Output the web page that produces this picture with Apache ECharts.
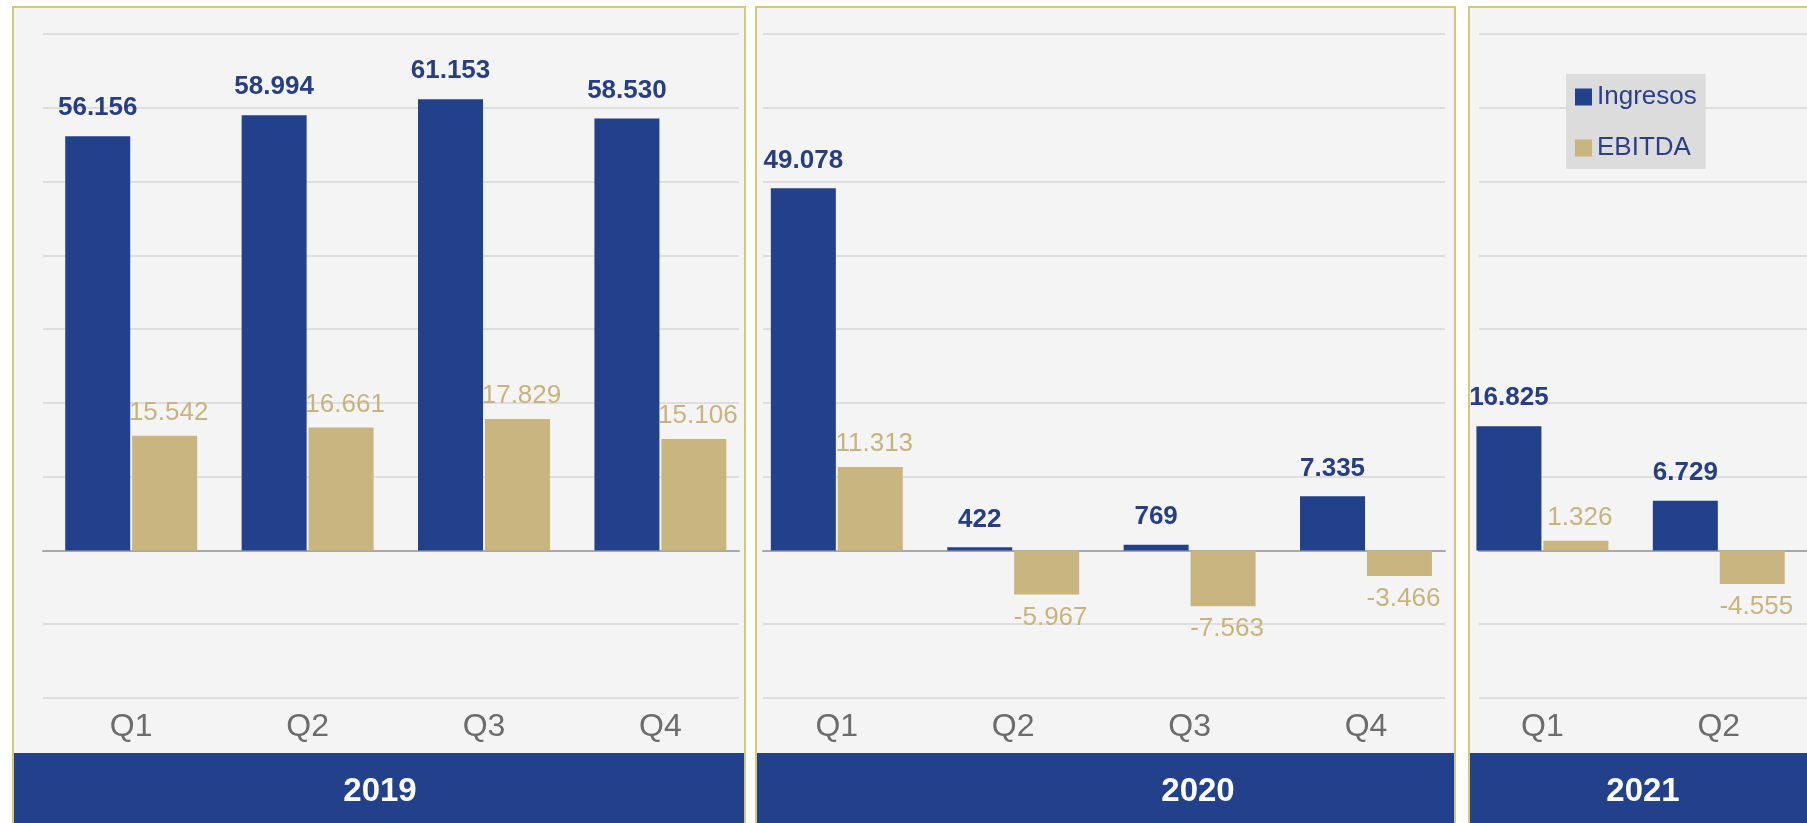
<!DOCTYPE html>
<html>
<head>
<meta charset="utf-8">
<script src="https://cdn.jsdelivr.net/npm/echarts@6/dist/echarts.min.js"></script>
<style>
html,body{margin:0;padding:0;background:#ffffff;}
#chart{width:1807px;height:823px;}
</style>
</head>
<body>
<div id="chart"></div>
<script>
// ---- data ----
const years = ['2019', '2020', '2021'];
const quarters2019 = ['Q1', 'Q2', 'Q3', 'Q4'];
const quarters2020 = ['Q1', 'Q2', 'Q3', 'Q4'];
const quarters2021 = ['Q1', 'Q2'];
const ingresos = [56156, 58994, 61153, 58530, 49078, 422, 769, 7335, 16825, 6729];
const ebitda = [15542, 16661, 17829, 15106, 11313, -5967, -7563, -3466, 1326, -4555];
const seriesNames = ['Ingresos', 'EBITDA'];
const yMin = -20000, yMax = 70000, yStep = 10000;

const categories = []
  .concat(quarters2019.map(q => years[0] + ' ' + q))
  .concat(quarters2020.map(q => years[1] + ' ' + q))
  .concat(quarters2021.map(q => years[2] + ' ' + q));

function fmt(v) {
  const s = v < 0 ? '-' : '';
  const a = String(Math.abs(v));
  return s + a.replace(/\B(?=(\d{3})+(?!\d))/g, '.');
}

const FONT = '"Liberation Sans", Arial, Helvetica, sans-serif';
const BLUE = '#22418a';
const GOLD = '#c9b57f';
const PANEL_BG = '#f4f4f5';
const PANEL_BORDER = '#d6c877';
const GRIDLINE = '#dedede';

// gridline panels (left, width)
const panelGrids = [
  {left: 43, width: 696},
  {left: 763, width: 682},
  {left: 1479, width: 400}
];

const grids = [], xAxes = [], yAxes = [];
panelGrids.forEach((p, i) => {
  grids.push({left: p.left, width: p.width, top: 34, height: 664, z: 1});
  xAxes.push({
    gridIndex: i, type: 'value', min: 0, max: 1, z: 1,
    axisLine: {show: true, onZero: true, lineStyle: {color: '#a8a8a8', width: 2}},
    axisTick: {show: false}, axisLabel: {show: false}, splitLine: {show: false}
  });
  yAxes.push({
    gridIndex: i, type: 'value', min: yMin, max: yMax, interval: yStep, z: 1,
    axisLine: {show: false}, axisTick: {show: false}, axisLabel: {show: false},
    splitLine: {show: true, lineStyle: {color: GRIDLINE, width: 2}}
  });
});
// main bar grid
grids.push({left: 43, width: 1773, top: 34, height: 664, z: 2});
xAxes.push({
  gridIndex: 3, type: 'category', data: categories, z: 2,
  axisLine: {show: false}, axisTick: {show: false}, splitLine: {show: false},
  axisLabel: {
    margin: 13, fontSize: 32, color: '#6c6c6c', fontFamily: FONT,
    formatter: v => v.split(' ')[1]
  }
});
yAxes.push({
  gridIndex: 3, type: 'value', min: yMin, max: yMax, interval: yStep, z: 2,
  axisLine: {show: false}, axisTick: {show: false}, axisLabel: {show: false},
  splitLine: {show: false}
});

const panels = [
  {x: 13, w: 732},
  {x: 756, w: 699},
  {x: 1469, w: 400}
];
const yearCenters = [380, 1198, 1643];

const graphic = [];
panels.forEach((p, i) => {
  graphic.push({
    type: 'rect', z: 0, silent: true,
    shape: {x: p.x, y: 7, width: p.w, height: 830},
    style: {fill: PANEL_BG, stroke: PANEL_BORDER, lineWidth: 2}
  });
  graphic.push({
    type: 'rect', z: 5, silent: true,
    shape: {x: p.x + 1, y: 753, width: p.w - 2, height: 80},
    style: {fill: BLUE}
  });
  graphic.push({
    type: 'text', z: 6, silent: true,
    x: yearCenters[i], y: 792,
    style: {
      text: years[i], fill: '#ffffff', font: 'bold 33px ' + FONT,
      textAlign: 'center', textVerticalAlign: 'middle'
    }
  });
});

const option = {
  animation: false,
  backgroundColor: '#ffffff',
  textStyle: {fontFamily: FONT},
  graphic: {elements: graphic},
  legend: {
    data: seriesNames,
    orient: 'vertical', left: 1566, top: 74,
    backgroundColor: '#dcdcdc', borderRadius: 0,
    padding: [10, 9, 8, 9],
    itemWidth: 17, itemHeight: 17, itemGap: 25,
    icon: 'rect',
    textStyle: {fontSize: 26, color: '#2b3e8c', fontFamily: FONT, padding: [0, 0, 0, 0]},
    z: 10
  },
  grid: grids,
  xAxis: xAxes,
  yAxis: yAxes,
  series: [
    {
      name: seriesNames[0], type: 'bar', xAxisIndex: 3, yAxisIndex: 3,
      data: ingresos, barWidth: 65, barGap: '3%',
      itemStyle: {color: BLUE},
      label: {
        show: true, position: 'outside', distance: 15,
        fontSize: 26, fontWeight: 'bold', color: '#273f82', fontFamily: FONT,
        formatter: p => fmt(p.value)
      },
      z: 3
    },
    {
      name: seriesNames[1], type: 'bar', xAxisIndex: 3, yAxisIndex: 3,
      data: ebitda, barWidth: 65, barGap: '3%',
      itemStyle: {color: GOLD},
      label: {
        show: true, position: 'outside', distance: 10, offset: [4, 0],
        fontSize: 26, color: '#c8b37c', fontFamily: FONT,
        formatter: p => fmt(p.value)
      },
      z: 3
    }
  ]
};

const chart = echarts.init(document.getElementById('chart'), null, {renderer: 'canvas'});
chart.setOption(option);
</script>
</body>
</html>
